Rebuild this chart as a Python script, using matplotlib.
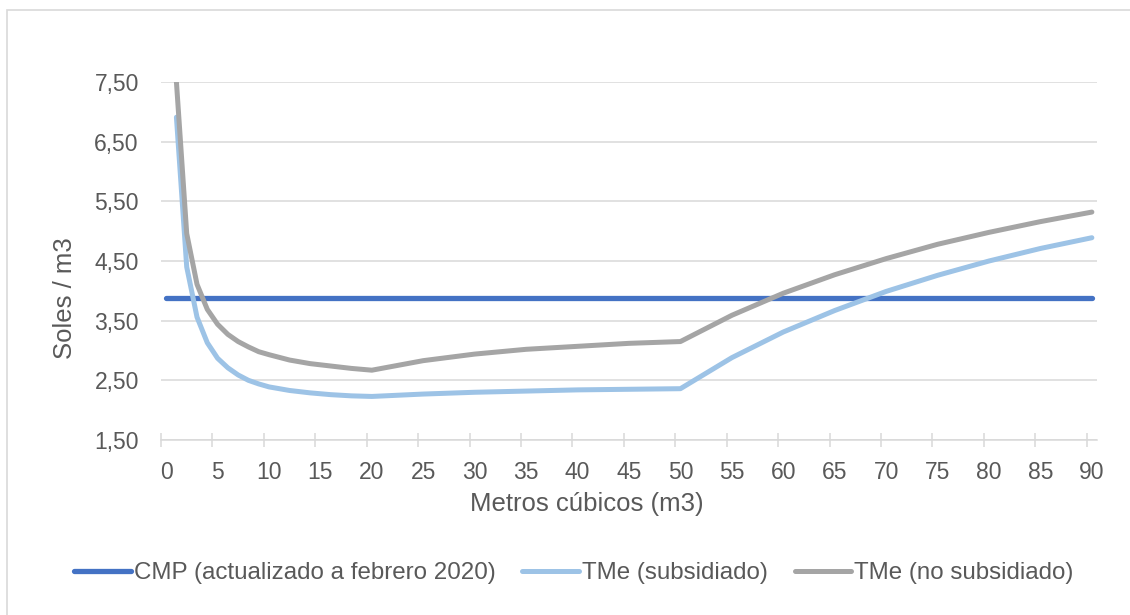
import numpy as np
import matplotlib
matplotlib.use("Agg")
import matplotlib.pyplot as plt
from matplotlib.patches import Rectangle
from matplotlib.ticker import FixedLocator, FuncFormatter

plt.rcParams['font.family'] = ['Liberation Sans', 'DejaVu Sans']

# consumo mensual (m3) y tarifa media (soles / m3)
m3 = [1, 2, 3, 4, 5, 6, 7, 8, 9, 10, 12, 14, 16, 18, 20,
      25, 30, 35, 40, 45, 50, 55, 60, 65, 70, 75, 80, 85, 90]
tme_subsidiado = [6.91, 4.40, 3.56, 3.13, 2.87, 2.71, 2.59, 2.50, 2.44, 2.39,
                  2.33, 2.29, 2.26, 2.24, 2.23,
                  2.27, 2.30, 2.32, 2.34, 2.35, 2.36,
                  2.88, 3.31, 3.67, 3.99, 4.26, 4.50, 4.71, 4.89]
tme_no_subsidiado = [7.50, 4.96, 4.11, 3.69, 3.44, 3.27, 3.15, 3.06, 2.98, 2.93,
                     2.84, 2.78, 2.74, 2.70, 2.67,
                     2.83, 2.94, 3.02, 3.07, 3.12, 3.15,
                     3.59, 3.96, 4.27, 4.54, 4.78, 4.98, 5.16, 5.32]
cmp_m3 = [0, 90]
cmp = [3.88, 3.88]

labels = ['CMP (actualizado a febrero 2020)', 'TMe (subsidiado)', 'TMe (no subsidiado)']
colors = ['#4472c4', '#9dc3e6', '#a5a5a5']
txt = '#595959'
grid = '#d9d9d9'

W, H = 1130, 615
fig = plt.figure(figsize=(W / 100, H / 100), dpi=100)
ax = fig.add_axes([161 / W, 1 - 440 / H, (1097 - 161) / W, (440 - 82) / H])

ax.plot(cmp_m3, cmp, color=colors[0], lw=3.8, solid_capstyle='round', label=labels[0], zorder=3)
ax.plot(m3, tme_subsidiado, color=colors[1], lw=3.6, solid_capstyle='round',
        solid_joinstyle='round', label=labels[1], zorder=4)
ax.plot(m3, tme_no_subsidiado, color=colors[2], lw=3.6, solid_capstyle='round',
        solid_joinstyle='round', label=labels[2], zorder=5)

ax.set_xlim(-0.5, 90.5)
ax.set_ylim(1.5, 7.5)

# etiquetas en cada categoria, marcas entre categorias
ax.xaxis.set_major_locator(FixedLocator(np.arange(0, 91, 5)))
ax.xaxis.set_minor_locator(FixedLocator(np.arange(-0.5, 90, 5)))
ax.yaxis.set_major_locator(FixedLocator(np.arange(1.5, 7.6, 1.0)))
ax.yaxis.set_major_formatter(FuncFormatter(lambda v, p: f'{v:.2f}'.replace('.', ',')))

ax.tick_params(axis='x', which='major', length=0, pad=15, labelsize=16.5, labelcolor=txt)
ax.tick_params(axis='x', which='minor', length=10, width=1.1, direction='inout', color=grid)
ax.tick_params(axis='y', which='major', length=0, pad=16, labelsize=16.5, labelcolor=txt)

for s in ['top', 'right', 'left']:
    ax.spines[s].set_visible(False)
ax.spines['bottom'].set_color(grid)
ax.spines['bottom'].set_linewidth(1.1)
ax.grid(axis='y', color=grid, lw=1.1)
ax.set_axisbelow(True)

# titulos de ejes
fig.text(587 / W, 1 - 511.5 / H, 'Metros cúbicos (m3)', fontsize=18.5, color=txt,
         ha='center', va='baseline')
fig.text(65 / W, 1 - 298 / H, 'Soles / m3', fontsize=18.5, color=txt,
         ha='center', va='center', rotation=90)

fig.legend(loc='center', bbox_to_anchor=(574 / W, 1 - 573 / H), ncol=3, frameon=False,
           fontsize=17.4, labelcolor=txt, handlelength=2.35, handletextpad=0.12,
           columnspacing=1.1)

# marco exterior
fig.patches.append(Rectangle((7 / W, -0.1), 1.2, 1 - 10 / H + 0.1, transform=fig.transFigure,
                             fill=False, edgecolor=grid, lw=1.2))

fig.savefig('out.png', dpi=100)
